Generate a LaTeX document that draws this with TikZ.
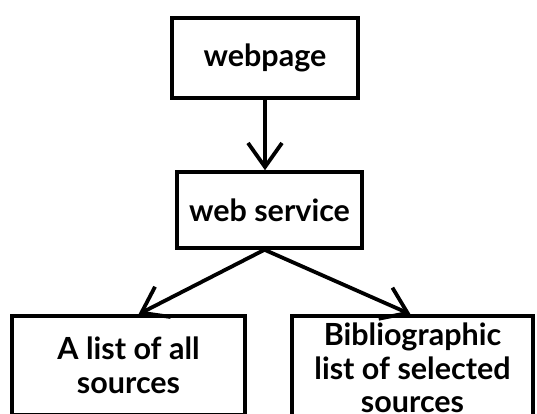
\documentclass[tikz,border=0pt]{standalone}
\usepackage{fontspec}
\setmainfont{Lato}
\usetikzlibrary{arrows.meta}
\begin{document}
\begin{tikzpicture}[x=1pt,y=-1pt,
  box/.style={draw, line width=3.5pt, inner sep=0pt, align=center,
    font=\fontsize{30.5}{33.5}\selectfont\bfseries},
  link/.style={line width=3.8pt, -{Straight Barb[length=24pt,width=34pt,line width=3.8pt]}}]
\useasboundingbox (0,0) rectangle (537,414);
\clip (0,0) rectangle (537,414);
\fill[white] (0,0) rectangle (537,414);
\node[box, minimum width=186pt, minimum height=80pt] (page) at (265,58) {webpage};
\node[box, minimum width=185pt, minimum height=76pt] (service) at (269.5,210) {web service};
\node[box, minimum width=233pt, minimum height=99pt] (all) at (128.5,365.5) {A list of all\\sources};
\node[box, minimum width=241pt, minimum height=104pt] (biblio) at (412.5,368) {Bibliographic\\list of selected\\sources};
\draw[link] (page.south) -- (page.south |- service.north);
\draw[link] ([xshift=-5pt]service.south) -- ([xshift=10pt]all.north);
\draw[link] ([xshift=-5pt]service.south) -- ([xshift=-2pt]biblio.north);
\end{tikzpicture}
\end{document}
